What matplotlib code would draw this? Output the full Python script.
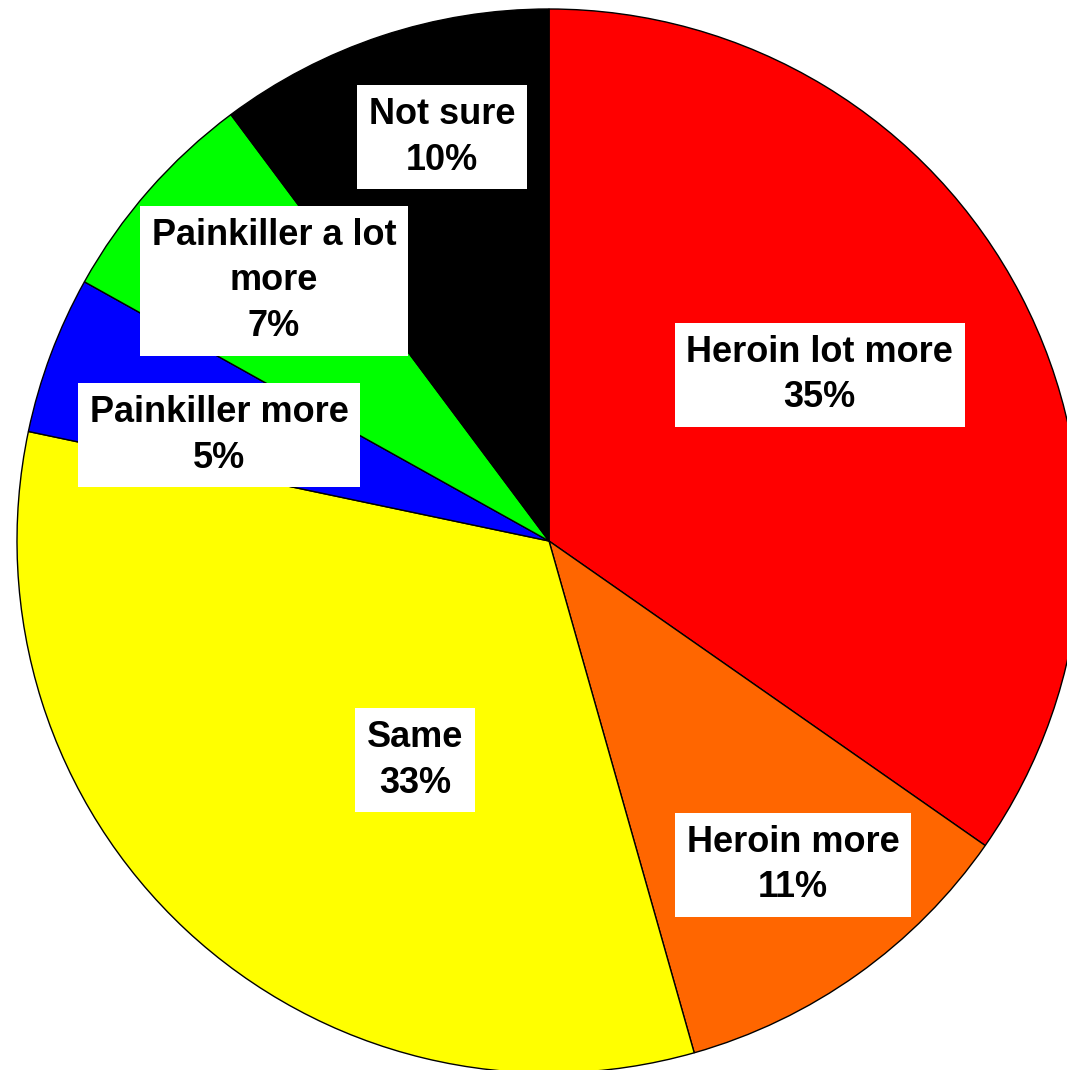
import matplotlib.pyplot as plt

plt.rcParams["font.family"] = ["Liberation Sans", "DejaVu Sans"]

# shares (clockwise from 12 o'clock)
categories = ["Heroin lot more", "Heroin more", "Same",
              "Painkiller more", "Painkiller a lot\nmore", "Not sure"]
shares = [34.7, 10.9, 32.7, 4.8, 6.7, 10.2]
colors = ["#ff0000", "#ff6600", "#ffff00", "#0000ff", "#00ff00", "#000000"]

# label box centres, in units of the pie radius
label_xy = [(0.509, 0.312), (0.459, -0.609), (-0.252, -0.412),
            (-0.620, 0.199), (-0.517, 0.489), (-0.201, 0.759)]

W, H = 1067, 1070
cx, cy, r = 549, 541, 532

fig = plt.figure(figsize=(W / 100, H / 100), dpi=100)
ax = fig.add_axes([0, 0, 1, 1])

ax.pie(shares, colors=colors, startangle=90, counterclock=False,
       radius=1, wedgeprops=dict(edgecolor="black", linewidth=1.0))

for name, val, (x, y) in zip(categories, shares, label_xy):
    ax.text(x, y, f"{name}\n{val:.0f}%", ha="center", va="center",
            fontsize=26, fontweight="bold", color="black",
            linespacing=1.4,
            bbox=dict(boxstyle="square,pad=0.32", facecolor="white",
                      edgecolor="none"))

ax.set_xlim(-cx / r, (W - cx) / r)
ax.set_ylim(-(H - cy) / r, cy / r)
ax.set_aspect("auto")
ax.axis("off")

fig.savefig("out.png", dpi=100, facecolor="white")
